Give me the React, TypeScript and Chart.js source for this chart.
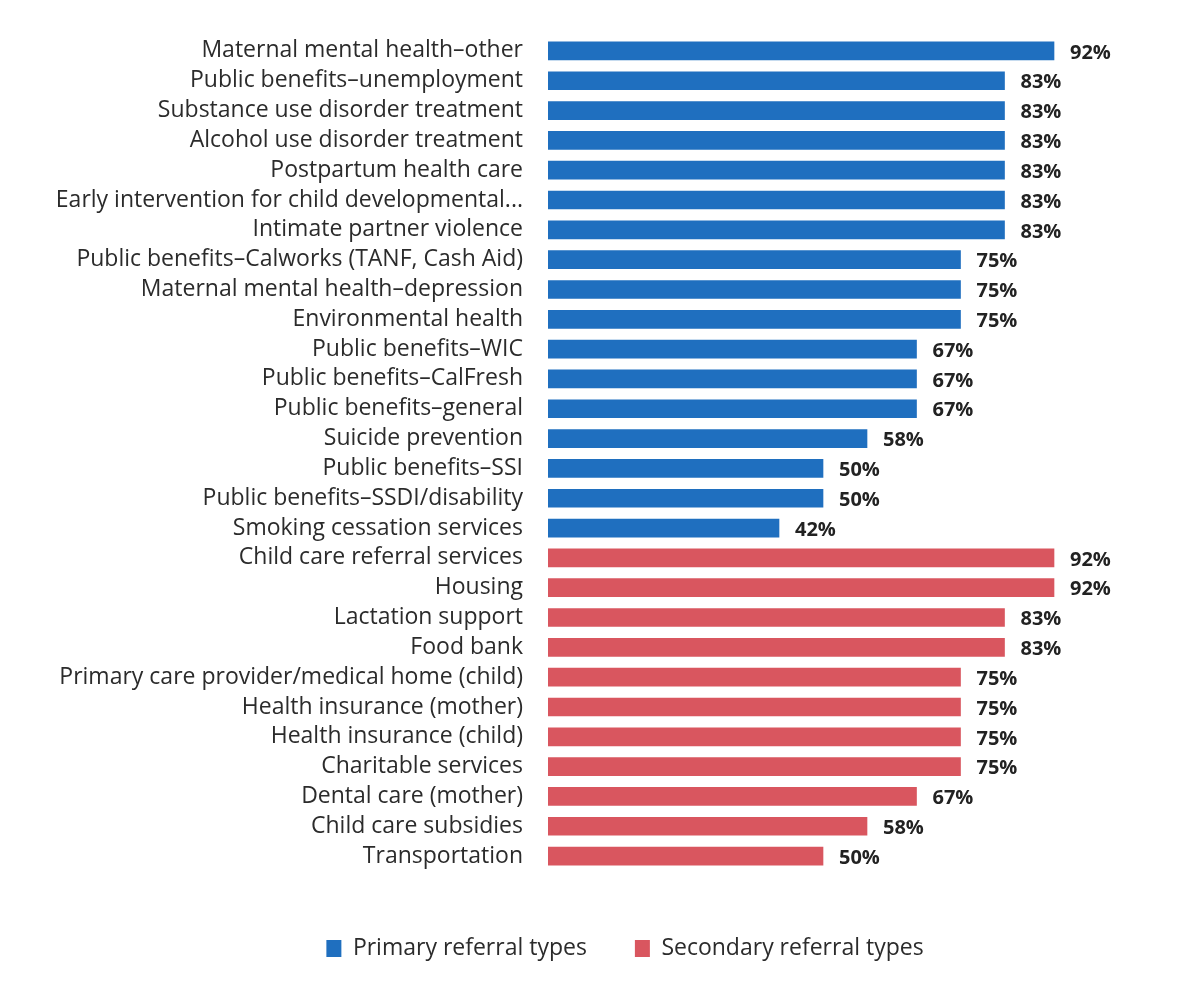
import React, { useEffect, useRef } from "react";
import { Chart, registerables } from "chart.js";

Chart.register(...registerables);

const categories = [
  "Maternal mental health–other",
  "Public benefits–unemployment",
  "Substance use disorder treatment",
  "Alcohol use disorder treatment",
  "Postpartum health care",
  "Early intervention for child developmental...",
  "Intimate partner violence",
  "Public benefits–Calworks (TANF, Cash Aid)",
  "Maternal mental health–depression",
  "Environmental health",
  "Public benefits–WIC",
  "Public benefits–CalFresh",
  "Public benefits–general",
  "Suicide prevention",
  "Public benefits–SSI",
  "Public benefits–SSDI/disability",
  "Smoking cessation services",
  "Child care referral services",
  "Housing",
  "Lactation support",
  "Food bank",
  "Primary care provider/medical home (child)",
  "Health insurance (mother)",
  "Health insurance (child)",
  "Charitable services",
  "Dental care (mother)",
  "Child care subsidies",
  "Transportation",
];

const primaryValues = [92, 83, 83, 83, 83, 83, 83, 75, 75, 75, 67, 67, 67, 58, 50, 50, 42, null, null, null, null, null, null, null, null, null, null, null];
const secondaryValues = [null, null, null, null, null, null, null, null, null, null, null, null, null, null, null, null, null, 92, 92, 83, 83, 75, 75, 75, 75, 67, 58, 50];

const seriesNames = ["Primary referral types", "Secondary referral types"];
const BLUE = "#1f6fbf";
const RED = "#d9565f";
const FONT = "'Open Sans', Lato, sans-serif";
const LEGEND_SHIFT = 72;

const valueLabels = {
  id: "valueLabels",
  afterDatasetsDraw(chart: any) {
    const ctx = chart.ctx;
    ctx.save();
    ctx.font = `bold 20px ${FONT}`;
    ctx.fillStyle = "#222";
    ctx.textAlign = "left";
    ctx.textBaseline = "middle";
    chart.data.datasets.forEach((ds: any, di: number) => {
      const meta = chart.getDatasetMeta(di);
      meta.data.forEach((bar: any, i: number) => {
        const v = ds.data[i];
        if (v == null) return;
        ctx.fillText(v + "%", bar.x + 16, bar.y + 2);
      });
    });
    ctx.restore();
  },
};

const legendShift = {
  id: "legendShift",
  afterLayout(chart: any) {
    if (chart.legend) {
      chart.legend.left += LEGEND_SHIFT;
      chart.legend.right += LEGEND_SHIFT;
    }
  },
};

export default function App() {
  const ref = useRef<HTMLCanvasElement>(null);
  useEffect(() => {
    const chart = new Chart(ref.current!, {
      type: "bar",
      data: {
        labels: categories,
        datasets: [
          { label: seriesNames[0], data: primaryValues as any, backgroundColor: BLUE, barThickness: 18, grouped: false } as any,
          { label: seriesNames[1], data: secondaryValues as any, backgroundColor: RED, barThickness: 18, grouped: false } as any,
        ],
      },
      options: {
        indexAxis: "y",
        animation: false,
        responsive: false,
        maintainAspectRatio: false,
        layout: { padding: { top: 28, right: 82, left: 0, bottom: 28 } },
        scales: {
          x: { display: false, min: 0, max: 100 },
          y: {
            grid: { display: false, drawTicks: false },
            border: { display: false },
            ticks: { color: "#2b2b2b", font: { family: FONT, size: 23 }, padding: 25, autoSkip: false },
            afterFit(scale: any) {
              scale.width = 540;
              scale.paddingTop = 0;
              scale.paddingBottom = 0;
            },
          },
        },
        plugins: {
          legend: {
            position: "bottom",
            title: { display: true, text: "", font: { size: 10, lineHeight: 1 }, padding: 4 },
            labels: {
              color: "#2b2b2b",
              font: { family: FONT, size: 23 },
              boxWidth: 15,
              boxHeight: 17,
              padding: 48,
            },
          },
          tooltip: { enabled: false },
        },
      },
      plugins: [valueLabels, legendShift],
    });
    return () => chart.destroy();
  }, []);
  return (
    <div style={{ width: 1172, height: 990 }}>
      <canvas ref={ref} width={1172} height={990} style={{ display: "block" }} />
    </div>
  );
}
